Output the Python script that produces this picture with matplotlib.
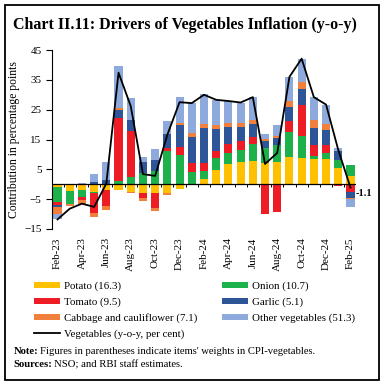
import numpy as np
import matplotlib
matplotlib.use('Agg')
import matplotlib.pyplot as plt
from matplotlib.patches import Rectangle

plt.rcParams['font.family'] = ['Liberation Serif', 'DejaVu Serif']

months = ['Feb-23', 'Mar-23', 'Apr-23', 'May-23', 'Jun-23', 'Jul-23', 'Aug-23', 'Sep-23',
          'Oct-23', 'Nov-23', 'Dec-23', 'Jan-24', 'Feb-24', 'Mar-24', 'Apr-24', 'May-24',
          'Jun-24', 'Jul-24', 'Aug-24', 'Sep-24', 'Oct-24', 'Nov-24', 'Dec-24', 'Jan-25', 'Feb-25']

potato = [-0.9, -2.2, -2.0, -2.6, -2.0, -2.0, -2.5, -2.8, -3.0, -3.0, -1.6, 0.2, 1.7,
          4.8, 6.7, 7.5, 7.8, 7.0, 7.6, 9.1, 8.7, 8.4, 8.5, 5.6, 2.8]
onion = [-5.0, -4.3, -2.3, -0.5, 0.0, 1.1, 2.3, 3.7, 4.3, 11.0, 9.9, 3.9, 2.6,
         3.9, 3.7, 4.0, 5.6, 5.3, 5.6, 8.4, 7.5, 1.1, 1.9, 2.6, 3.7]
tomato = [-1.1, 0.0, -1.1, -6.5, -5.4, 21.0, 15.4, -1.9, -5.1, 1.1, 2.5, 2.9, 2.8,
          2.3, 3.1, 2.9, 2.6, -10.0, -9.2, 3.6, 10.2, 3.5, 2.6, -0.6, -2.5]
garlic = [-0.6, 0.0, 0.0, 0.8, 1.3, 2.8, 3.7, 3.6, 3.9, 4.8, 7.5, 9.0, 11.7,
          7.5, 5.6, 4.7, 4.3, 2.3, 2.3, 4.7, 5.5, 5.8, 5.3, 3.1, -2.0]
cabbage = [-2.3, -0.9, -1.1, -1.4, -1.1, 0.5, -0.3, -0.9, -0.7, -0.5, 0.8, 1.1, 1.5,
           1.4, 1.4, 1.4, 1.3, 0.6, 0.8, 2.0, 2.5, 2.8, 2.0, 0.0, -0.5]
others = [-1.6, 0.0, 0.3, 2.6, 6.2, 14.2, 7.5, 2.0, 3.6, 4.4, 8.5, 10.3, 10.0,
          8.4, 7.3, 6.9, 7.6, 1.6, 3.6, 8.2, 7.7, 7.6, 6.4, 0.8, -2.5]
vegetables = [-11.8, -8.2, -6.5, -7.6, 0.2, 37.4, 26.2, 3.4, 2.8, 16.6, 27.5, 27.2, 30.0,
              28.3, 27.9, 27.4, 29.2, 6.8, 10.5, 36.0, 42.1, 29.2, 26.7, 11.5, -1.1]

labels = ['Potato (16.3)', 'Onion (10.7)', 'Tomato (9.5)', 'Garlic (5.1)',
          'Cabbage and cauliflower (7.1)', 'Other vegetables (51.3)']
colors = ['#FFC000', '#1DB14B', '#EE1C25', '#2E5597', '#F0803C', '#8EA9DB']
series = [potato, onion, tomato, garlic, cabbage, others]

fig = plt.figure(figsize=(3.84, 3.85), dpi=100)
ax = fig.add_axes([0.1354, 0.4052, 0.7916, 0.4649])

x = np.arange(len(months))
pos_base = np.zeros(len(months))
neg_base = np.zeros(len(months))
bars = []
for vals, col, lab in zip(series, colors, labels):
    v = np.array(vals)
    pos = np.where(v > 0, v, 0)
    neg = np.where(v < 0, v, 0)
    b = ax.bar(x, pos, 0.66, bottom=pos_base, color=col, label=lab, linewidth=0)
    ax.bar(x, neg, 0.66, bottom=neg_base, color=col, linewidth=0)
    pos_base += pos
    neg_base += neg
    bars.append(b)

line, = ax.plot(x, vegetables, color='black', lw=1.3)
ax.annotate('-1.1', (x[-1], vegetables[-1]), xytext=(4, -4), textcoords='offset points',
            fontsize=7.5, fontweight='bold', va='center', annotation_clip=False)

# zero line with small ticks between bars
ax.axhline(0, color='black', lw=0.9)
ax.vlines(x[:-1] + 0.5, -0.8, 0, color='black', lw=0.7)

ax.set_xlim(-0.45, 24.45)
ax.set_ylim(-15, 45)
ax.set_yticks(np.arange(-15, 46, 10))
ax.set_xticks(x[::2])
ax.set_xticklabels(months[::2], rotation=90, fontsize=8)
ax.tick_params(axis='x', length=0, pad=6)
ax.tick_params(axis='y', labelsize=8, length=4, width=0.8)
for s in ['top', 'right', 'bottom']:
    ax.spines[s].set_visible(False)
ax.spines['left'].set_linewidth(0.8)
ax.set_ylabel('Contribution in percentage points', fontsize=8.4, labelpad=2)
ax.yaxis.set_label_coords(-0.105, 0.5)

handles = [bars[0], bars[2], bars[4], line, bars[1], bars[3], bars[5]]
hlabels = [labels[0], labels[2], labels[4], 'Vegetables (y-o-y, per cent)',
           labels[1], labels[3], labels[5]]
fig.legend(handles, hlabels, ncol=2, loc='upper left', bbox_to_anchor=(0.075, 0.283),
           frameon=False, fontsize=7.8, handlelength=2.4, handleheight=0.45,
           handletextpad=0.35, columnspacing=2.3, labelspacing=0.58, borderpad=0)

fig.text(0.035, 0.935, 'Chart II.11: Drivers of Vegetables Inflation (y-o-y)',
         fontsize=11.5, fontweight='bold', va='center')

# note and source lines: bold lead-in followed by regular text
renderer = fig.canvas.get_renderer()
for yy, head, body in [(0.088, 'Note:', 'Figures in parentheses indicate items\' weights in CPI-vegetables.'),
                       (0.052, 'Sources:', 'NSO; and RBI staff estimates.')]:
    t = fig.text(0.035, yy, head, fontsize=7.7, fontweight='bold', va='center')
    bb = t.get_window_extent(renderer)
    fig.text(bb.x1 / fig.bbox.width + 0.004, yy, body, fontsize=7.7, va='center')

fig.patches.append(Rectangle((0.013, 0.013), 0.974, 0.974, transform=fig.transFigure,
                             fill=False, edgecolor='black', lw=1.3))

fig.savefig('out.png', dpi=100)
